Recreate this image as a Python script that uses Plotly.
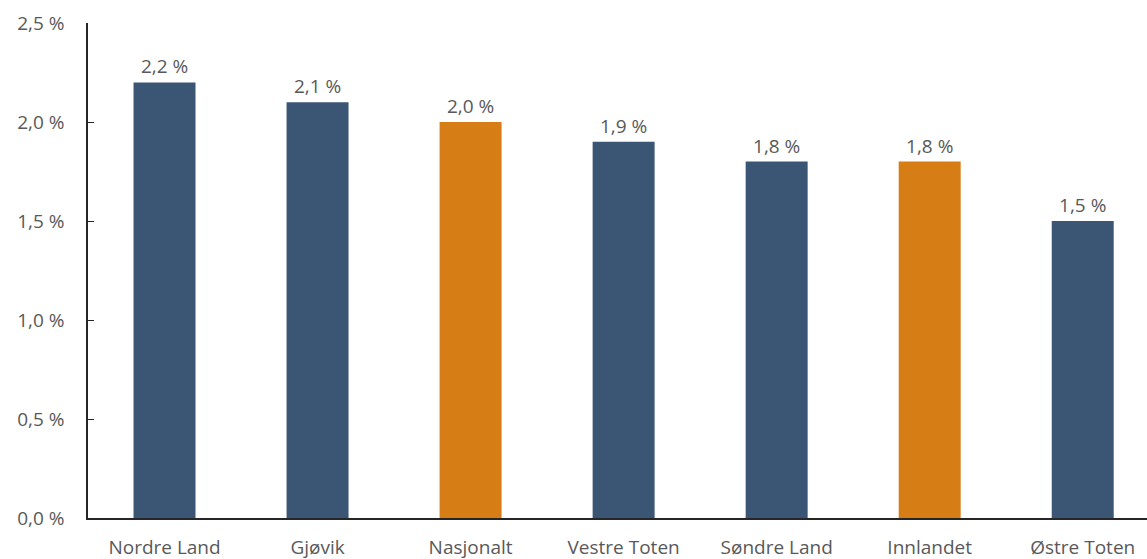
import plotly.graph_objects as go

kommuner = ['Nordre Land', 'Gjøvik', 'Nasjonalt', 'Vestre Toten', 'Søndre Land', 'Innlandet', 'Østre Toten']
andel = [2.2, 2.1, 2.0, 1.9, 1.8, 1.8, 1.5]
farger = ['#3A5674', '#3A5674', '#D67D16', '#3A5674', '#3A5674', '#D67D16', '#3A5674']
tick_vals = [0, 0.5, 1.0, 1.5, 2.0, 2.5]
tick_text = ['0,0 %', '0,5 %', '1,0 %', '1,5 %', '2,0 %', '2,5 %']

fig = go.Figure()
fig.add_trace(go.Bar(
    x=kommuner, y=andel,
    marker=dict(color=farger, line=dict(width=0)),
    width=0.405,
    text=[f'{v:.1f} %'.replace('.', ',') for v in andel],
    textposition='outside',
    textfont=dict(size=19, color='#595959'),
    cliponaxis=False,
))

fig.update_layout(
    width=1147, height=559,
    margin=dict(l=88, r=0, t=23, b=41),
    plot_bgcolor='white', paper_bgcolor='white',
    font=dict(family='Open Sans, Liberation Sans, sans-serif', size=19, color='#595959'),
    showlegend=False,
    uniformtext=dict(minsize=19, mode='show'),
)
fig.update_yaxes(
    range=[0, 2.5], tickvals=tick_vals, ticktext=tick_text,
    showgrid=False, zeroline=False,
    showline=True, linecolor='#262626', linewidth=1.5,
    ticks='inside', ticklen=6, tickcolor='#262626',
    ticklabelstandoff=18,
)
# originalen er beskåret i høyre kant, så siste kategori får litt mindre plass
fig.update_xaxes(
    range=[-0.5, 6.42],
    showgrid=False, showline=True, linecolor='#262626', linewidth=1.5,
    ticks='', ticklabelstandoff=11,
)

# fjern standardmargen i <body> så figuren fyller vinduet
fig.write_html("out.html", config={'displayModeBar': False},
               post_script="document.body.style.margin='0';")
